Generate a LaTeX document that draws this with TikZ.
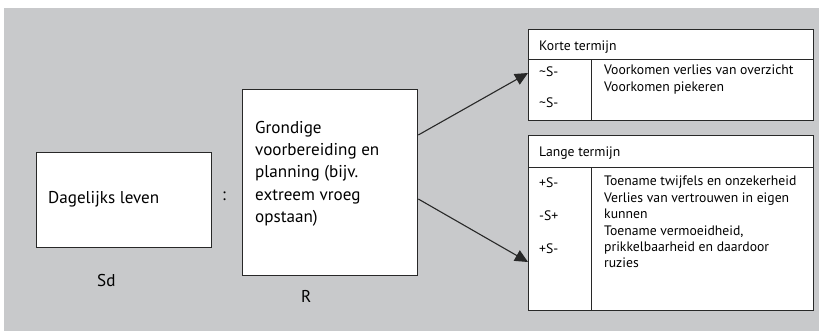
\documentclass[tikz,border=0pt]{standalone}
\usepackage{fontspec}
\setmainfont{PT Sans}
\usetikzlibrary{arrows.meta,calc}
\definecolor{bggray}{RGB}{200,201,203}
\definecolor{linecol}{RGB}{40,40,40}
\begin{document}
\begin{tikzpicture}[x=1pt,y=-1pt,
  box/.style={draw=linecol,line width=1.3pt,fill=white,inner sep=0pt,anchor=north west},
  bigtxt/.style={font=\fontsize{17.1}{22.3}\selectfont,inner sep=0pt,anchor=base west,align=left},
  smalltxt/.style={font=\fontsize{13.7}{16.4}\selectfont,inner sep=0pt,anchor=base west,align=left},
  conn/.style={draw=linecol,line width=1.1pt,-{Triangle[length=13pt,width=12pt]}}]
\useasboundingbox (0,0) rectangle (819,331);
\fill[bggray] (4,8) rectangle (819,331);
% Sd box
\node[box,minimum width=175pt,minimum height=95pt] (sd) at (36,152) {};
\node[bigtxt] (sdtxt) at (48,204) {Dagelijks leven};
\node[bigtxt] (colon) at (222,201) {:};
\node[bigtxt] (sdlab) at (97,286) {Sd};
% R box
\node[box,minimum width=175pt,minimum height=186pt] (r) at (242,89) {};
\node[bigtxt,anchor=north west] (rtxt) at (255,121) {Grondige\\voorbereiding en\\planning (bijv.\\extreem vroeg\\opstaan)};
\node[bigtxt] (rlab) at (301,302) {R};
% Korte termijn
\node[box,minimum width=285pt,minimum height=30pt] (kh) at (528,29) {};
\node[box,minimum width=63pt,minimum height=61pt] (kl) at (528,59) {};
\node[box,minimum width=222pt,minimum height=61pt] (kr) at (591,59) {};
\node[smalltxt] (khtxt) at (539,51) {Korte termijn};
\node[smalltxt] (kltxt1) at (539,77) {\textasciitilde S-};
\node[smalltxt] (kltxt2) at (539,108) {\textasciitilde S-};
\node[smalltxt,anchor=north west] (krtxt) at (604,65) {Voorkomen verlies van overzicht\\Voorkomen piekeren};
% Lange termijn
\node[box,minimum width=285pt,minimum height=32pt] (lh) at (528,135) {};
\node[box,minimum width=63pt,minimum height=143pt] (ll) at (528,167) {};
\node[box,minimum width=222pt,minimum height=143pt] (lr) at (591,167) {};
\node[smalltxt] (lhtxt) at (539,157) {Lange termijn};
\node[smalltxt] (lltxt1) at (539,188) {+S-};
\node[smalltxt] (lltxt2) at (539,221) {-S+};
\node[smalltxt] (lltxt3) at (539,253) {+S-};
\node[smalltxt,anchor=north west] (lrtxt) at (604,176) {Toename twijfels en onzekerheid\\Verlies van vertrouwen in eigen\\kunnen\\Toename vermoeidheid,\\prikkelbaarheid en daardoor\\ruzies};
% connectors
\draw[conn] ([yshift=-46pt]r.north east) -- ([yshift=-14pt]kl.north west);
\draw[conn] ([yshift=-110pt]r.north east) -- ([yshift=-95pt]ll.north west);
\end{tikzpicture}
\end{document}
